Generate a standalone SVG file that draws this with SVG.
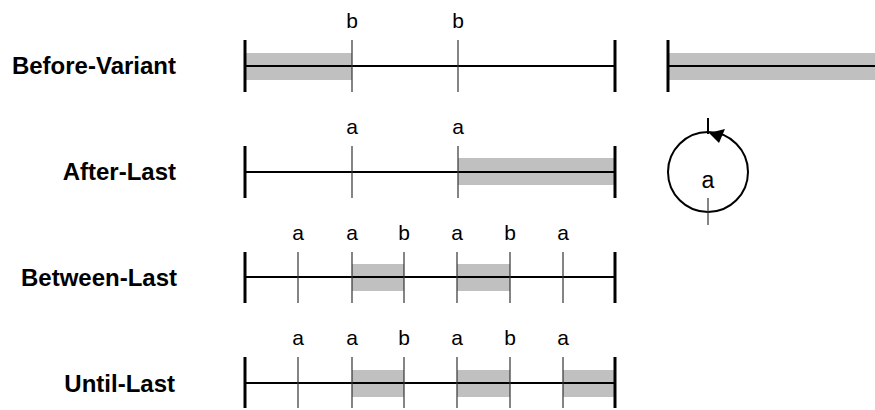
<svg xmlns="http://www.w3.org/2000/svg" width="875" height="410" viewBox="0 0 875 410">
<style>
.lbl{font-family:"Liberation Sans",Arial,sans-serif;font-weight:bold;font-size:24px;fill:#000;text-anchor:end}
.ev{font-family:"Liberation Sans",Arial,sans-serif;font-size:21px;fill:#000;text-anchor:middle}
.axis{stroke:#000;stroke-width:2;fill:none}
.bar{stroke:#000;stroke-width:3;fill:none}
.tick{stroke:#333;stroke-width:1.2;fill:none}
.band{fill:#c0c0c0;stroke:none}
</style>
<rect width="875" height="410" fill="#fff"/>
<g id="before-variant">
<text class="lbl" x="176" y="74">Before-Variant</text>
<rect class="band" x="246" y="53" width="106" height="27"/>
<line class="axis" x1="245" y1="66" x2="615" y2="66"/>
<line class="bar" x1="245" y1="40" x2="245" y2="92"/>
<line class="bar" x1="615" y1="40" x2="615" y2="92"/>
<line class="tick" x1="352" y1="40" x2="352" y2="92"/>
<line class="tick" x1="458" y1="40" x2="458" y2="92"/>
<text class="ev" x="352" y="28">b</text>
<text class="ev" x="458" y="28">b</text>
</g>
<g id="before-variant-open">
<rect class="band" x="669" y="53" width="206" height="27"/>
<line class="axis" x1="668" y1="66" x2="875" y2="66"/>
<line class="bar" x1="668" y1="40" x2="668" y2="92"/>
</g>
<g id="after-last">
<text class="lbl" x="176" y="180">After-Last</text>
<rect class="band" x="458" y="158" width="157" height="27"/>
<line class="axis" x1="245" y1="172" x2="615" y2="172"/>
<line class="bar" x1="245" y1="146" x2="245" y2="198"/>
<line class="bar" x1="615" y1="146" x2="615" y2="198"/>
<line class="tick" x1="352" y1="146" x2="352" y2="198"/>
<line class="tick" x1="458" y1="146" x2="458" y2="198"/>
<text class="ev" x="352" y="134">a</text>
<text class="ev" x="458" y="134">a</text>
</g>
<g id="loop">
<circle cx="708" cy="172" r="40" class="axis"/>
<line x1="708" y1="118" x2="708" y2="134" stroke="#000" stroke-width="2"/>
<line class="tick" x1="708" y1="198" x2="708" y2="225"/>
<polygon points="709,133 725,129 719,143" fill="#000"/>
<text class="ev" x="708" y="188" style="font-size:23px">a</text>
</g>
<g id="between-last">
<text class="lbl" x="177" y="286">Between-Last</text>
<rect class="band" x="352" y="264" width="52" height="27"/>
<rect class="band" x="457" y="264" width="53" height="27"/>
<line class="axis" x1="245" y1="277" x2="615" y2="277"/>
<line class="bar" x1="245" y1="252" x2="245" y2="303"/>
<line class="bar" x1="615" y1="252" x2="615" y2="303"/>
<line class="tick" x1="298" y1="252" x2="298" y2="303"/>
<line class="tick" x1="352" y1="252" x2="352" y2="303"/>
<line class="tick" x1="404" y1="252" x2="404" y2="303"/>
<line class="tick" x1="457" y1="252" x2="457" y2="303"/>
<line class="tick" x1="510" y1="252" x2="510" y2="303"/>
<line class="tick" x1="563" y1="252" x2="563" y2="303"/>
<text class="ev" x="298" y="240">a</text>
<text class="ev" x="352" y="240">a</text>
<text class="ev" x="404" y="240">b</text>
<text class="ev" x="457" y="240">a</text>
<text class="ev" x="510" y="240">b</text>
<text class="ev" x="563" y="240">a</text>
</g>
<g id="until-last">
<text class="lbl" x="175" y="392">Until-Last</text>
<rect class="band" x="352" y="370" width="52" height="27"/>
<rect class="band" x="457" y="370" width="53" height="27"/>
<rect class="band" x="563" y="370" width="52" height="27"/>
<line class="axis" x1="245" y1="383" x2="615" y2="383"/>
<line class="bar" x1="245" y1="357" x2="245" y2="408"/>
<line class="bar" x1="615" y1="357" x2="615" y2="408"/>
<line class="tick" x1="298" y1="357" x2="298" y2="408"/>
<line class="tick" x1="352" y1="357" x2="352" y2="408"/>
<line class="tick" x1="404" y1="357" x2="404" y2="408"/>
<line class="tick" x1="457" y1="357" x2="457" y2="408"/>
<line class="tick" x1="510" y1="357" x2="510" y2="408"/>
<line class="tick" x1="563" y1="357" x2="563" y2="408"/>
<text class="ev" x="298" y="345">a</text>
<text class="ev" x="352" y="345">a</text>
<text class="ev" x="404" y="345">b</text>
<text class="ev" x="457" y="345">a</text>
<text class="ev" x="510" y="345">b</text>
<text class="ev" x="563" y="345">a</text>
</g>
<g id="connectors"></g>
</svg>
